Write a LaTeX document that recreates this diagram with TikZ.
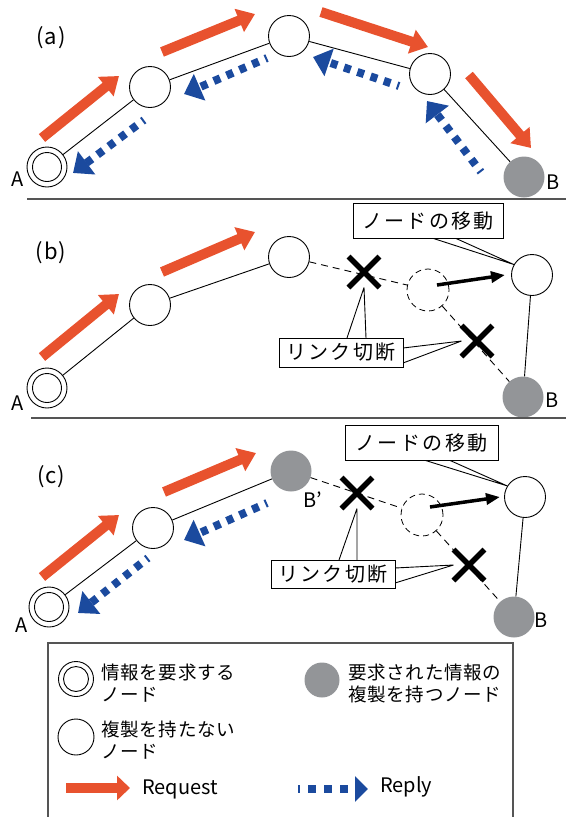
\documentclass[tikz,border=0pt]{standalone}
\usepackage{fontspec}
\setmainfont{Noto Sans CJK JP}
\newfontfamily\jpwide[LetterSpace=12]{Noto Sans CJK JP}
\newfontfamily\jpleg[LetterSpace=4]{Noto Sans CJK JP}
\usetikzlibrary{arrows.meta,calc,shapes.misc}

\definecolor{reqred}{HTML}{E8522E}
\definecolor{repblue}{HTML}{1B4A9E}
\definecolor{holdgray}{HTML}{939598}
\definecolor{rulegray}{HTML}{555555}

\tikzset{
  plain/.style={circle, draw, line width=0.9pt, fill=white, minimum size=41pt, inner sep=0pt},
  holder/.style={circle, fill=holdgray, minimum size=41pt, inner sep=0pt},
  requester/.style={circle, draw, line width=0.9pt, fill=white, minimum size=40pt, inner sep=0pt,
    path picture={\draw[line width=0.9pt] (path picture bounding box.center) circle (14.5pt);}},
  ghost/.style={circle, draw, line width=0.8pt, dash pattern=on 6pt off 4pt, minimum size=42pt, inner sep=0pt},
  link/.style={line width=0.9pt},
  cutlink/.style={line width=0.9pt, dash pattern=on 7pt off 5pt},
  request/.style={reqred, line width=10pt, -{Triangle[width=24pt,length=17pt]}},
  reply/.style={repblue, line width=8pt, dash pattern=on 7pt off 7pt, dash phase=5pt,
    -{Triangle[width=28pt,length=17pt]}},
  moveto/.style={line width=3.5pt, -{Triangle[width=11pt,length=14pt]}},
  xmark/.style={cross out, draw, line width=5.5pt, minimum size=31pt, inner sep=0pt, outer sep=0pt},
  tag/.style={draw, line width=0.9pt, fill=white, inner sep=0pt, font=\jpwide\fontsize{20}{24}\selectfont},
  callout/.style={line width=0.9pt},
  lbl/.style={inner sep=0pt, font=\fontsize{20}{24}\selectfont},
  panel/.style={inner sep=0pt, font=\jpleg\fontsize{22}{26}\selectfont},
  legtext/.style={inner sep=0pt, anchor=west, align=left, font=\jpleg\fontsize{18.5}{22}\selectfont},
  rule/.style={rulegray, line width=1.2pt},
}

\begin{document}
\begin{tikzpicture}[x=1pt,y=-1pt]
\useasboundingbox (0,0) rectangle (566,817);

% ---------------- (a) full route ----------------
\node[panel] (alab) at (51,38) {(a)};
\node[requester] (aA) at (47,167) {};
\node[plain] (a2) at (150,87) {};
\node[plain] (a3) at (289,36) {};
\node[plain] (a4) at (430,74) {};
\node[holder] (aB) at (524,177) {};
\node[lbl] (aAl) at (18,179) {A};
\node[lbl] (aBl) at (553,182) {B};
\draw[link] (aA) -- (a2) -- (a3) -- (a4) -- (aB);

\coordinate (ar1s) at (42,138);  \coordinate (ar1e) at (119,76);
\coordinate (ar2s) at (162,52);  \coordinate (ar2e) at (255,14);
\coordinate (ar3s) at (321,12);  \coordinate (ar3e) at (428,47);
\coordinate (ar4s) at (469,75);  \coordinate (ar4e) at (531,148);
\draw[request] (ar1s) -- (ar1e);
\draw[request] (ar2s) -- (ar2e);
\draw[request] (ar3s) -- (ar3e);
\draw[request] (ar4s) -- (ar4e);

\coordinate (ab1s) at (481,172); \coordinate (ab1e) at (427,101);
\coordinate (ab2s) at (399,86);  \coordinate (ab2e) at (313,57);
\coordinate (ab3s) at (267,58);  \coordinate (ab3e) at (184,94);
\coordinate (ab4s) at (144,120); \coordinate (ab4e) at (73,173);
\draw[reply] (ab1s) -- (ab1e);
\draw[reply] (ab2s) -- (ab2e);
\draw[reply] (ab3s) -- (ab3e);
\draw[reply] (ab4s) -- (ab4e);

\coordinate (s1l) at (27,199); \coordinate (s1r) at (566,199);
\draw[rule] (s1l) -- (s1r);

% ---------------- (b) link broken by a moving node ----------------
\node[panel] (blab) at (51,253) {(b)};
\node[requester] (bA) at (47,388) {};
\node[plain] (b2) at (150,305) {};
\node[plain] (b3) at (289,257) {};
\node[ghost] (bG) at (428,290) {};
\node[plain] (bM) at (532,275) {};
\node[holder] (bB) at (523,397) {};
\node[lbl] (bAl) at (18,403) {A};
\node[lbl] (bBl) at (552,400) {B};
\draw[link] (bA) -- (b2) -- (b3);
\draw[cutlink] (b3) -- (bG) -- (bB);
\draw[link] (bM) -- (bB);
\node[xmark] (bx1) at (364,272) {};
\node[xmark] (bx2) at (477,341) {};
\coordinate (bmvs) at (437,285); \coordinate (bmve) at (505,275);
\draw[moveto] (bmvs) -- (bmve);

\coordinate (br1s) at (42,357);  \coordinate (br1e) at (119,294);
\coordinate (br2s) at (162,272); \coordinate (br2e) at (255,232);
\draw[request] (br1s) -- (br1e);
\draw[request] (br2s) -- (br2e);

\draw[callout] (bM.150) -- (432,238) (bM.150) -- (455,238);
\node[tag, minimum width=150pt, minimum height=35pt] (bt1) at (428,220.5) {ノードの移動};
\draw[callout] (bx1.south) -- (347,338) (bx1.south) -- (366,338);
\draw[callout] (bx2.west) -- (403,348) (bx2.west) -- (403,363);
\node[tag, minimum width=124pt, minimum height=29pt] (bt2) at (341,352.5) {リンク切断};

\coordinate (s2l) at (31,418); \coordinate (s2r) at (566,418);
\draw[rule] (s2l) -- (s2r);

% ---------------- (c) reply from the nearer copy ----------------
\node[panel] (clab) at (51,477) {(c)};
\node[requester] (cA) at (49,607) {};
\node[plain] (c2) at (153,528) {};
\node[holder] (cBp) at (291,471) {};
\node[ghost] (cG) at (422,515) {};
\node[plain] (cM) at (525,497) {};
\node[holder] (cB) at (514,617) {};
\node[lbl] (cAl) at (22,625) {A};
\node[lbl] (cBl) at (541,620) {B};
\node[lbl] (cBpl) at (313,500) {B’};
\draw[link] (cA) -- (c2) -- (cBp);
\draw[cutlink] (cBp) -- (cG) -- (cB);
\draw[link] (cM) -- (cB);
\node[xmark] (cx1) at (357,493) {};
\node[xmark] (cx2) at (469,565) {};
\coordinate (cmvs) at (430,507); \coordinate (cmve) at (500,497);
\draw[moveto] (cmvs) -- (cmve);

\coordinate (cr1s) at (42,577);  \coordinate (cr1e) at (119,515);
\coordinate (cr2s) at (164,492); \coordinate (cr2e) at (256,453);
\draw[request] (cr1s) -- (cr1e);
\draw[request] (cr2s) -- (cr2e);
\coordinate (cb1s) at (267,503); \coordinate (cb1e) at (184,540);
\coordinate (cb2s) at (148,558); \coordinate (cb2e) at (78,613);
\draw[reply] (cb1s) -- (cb1e);
\draw[reply] (cb2s) -- (cb2e);

\draw[callout] (cM.148) -- (424,460) (cM.148) -- (449,460);
\node[tag, minimum width=153pt, minimum height=35pt] (ct1) at (421.5,442.5) {ノードの移動};
\draw[callout] (cx1.south) -- (339,560) (cx1.south) -- (357,560);
\draw[callout] (cx2.west) -- (395,568) (cx2.west) -- (395,583);
\node[tag, minimum width=124pt, minimum height=28pt] (ct2) at (333,574) {リンク切断};

% ---------------- legend ----------------
\draw[rulegray, line width=1.4pt] (48,643) rectangle (513,840);
\node[requester, minimum size=35pt,
  path picture={\draw[line width=0.9pt] (path picture bounding box.center) circle (12.5pt);}] (lA) at (76,679) {};
\node[legtext] (lAt) at (101,683) {情報を要求する\\ノード};
\node[holder, minimum size=35pt] (lB) at (322,680) {};
\node[legtext] (lBt) at (348,683) {要求された情報の\\複製を持つノード};
\node[plain, minimum size=36pt] (lP) at (76,737) {};
\node[legtext] (lPt) at (101,740) {複製を持たない\\ノード};

\coordinate (lrs) at (66,788); \coordinate (lre) at (130,788);
\draw[request, -{Triangle[width=24pt,length=13pt]}] (lrs) -- (lre);
\node[lbl, anchor=west] (lrt) at (142,789) {Request};
\coordinate (lbs) at (298,789); \coordinate (lbe) at (368,789);
\draw[reply, dash pattern=on 8pt off 8pt, dash phase=6pt, -{Triangle[width=25pt,length=13pt]}] (lbs) -- (lbe);
\node[lbl, anchor=west] (lbt) at (380,787) {Reply};
\end{tikzpicture}
\end{document}
